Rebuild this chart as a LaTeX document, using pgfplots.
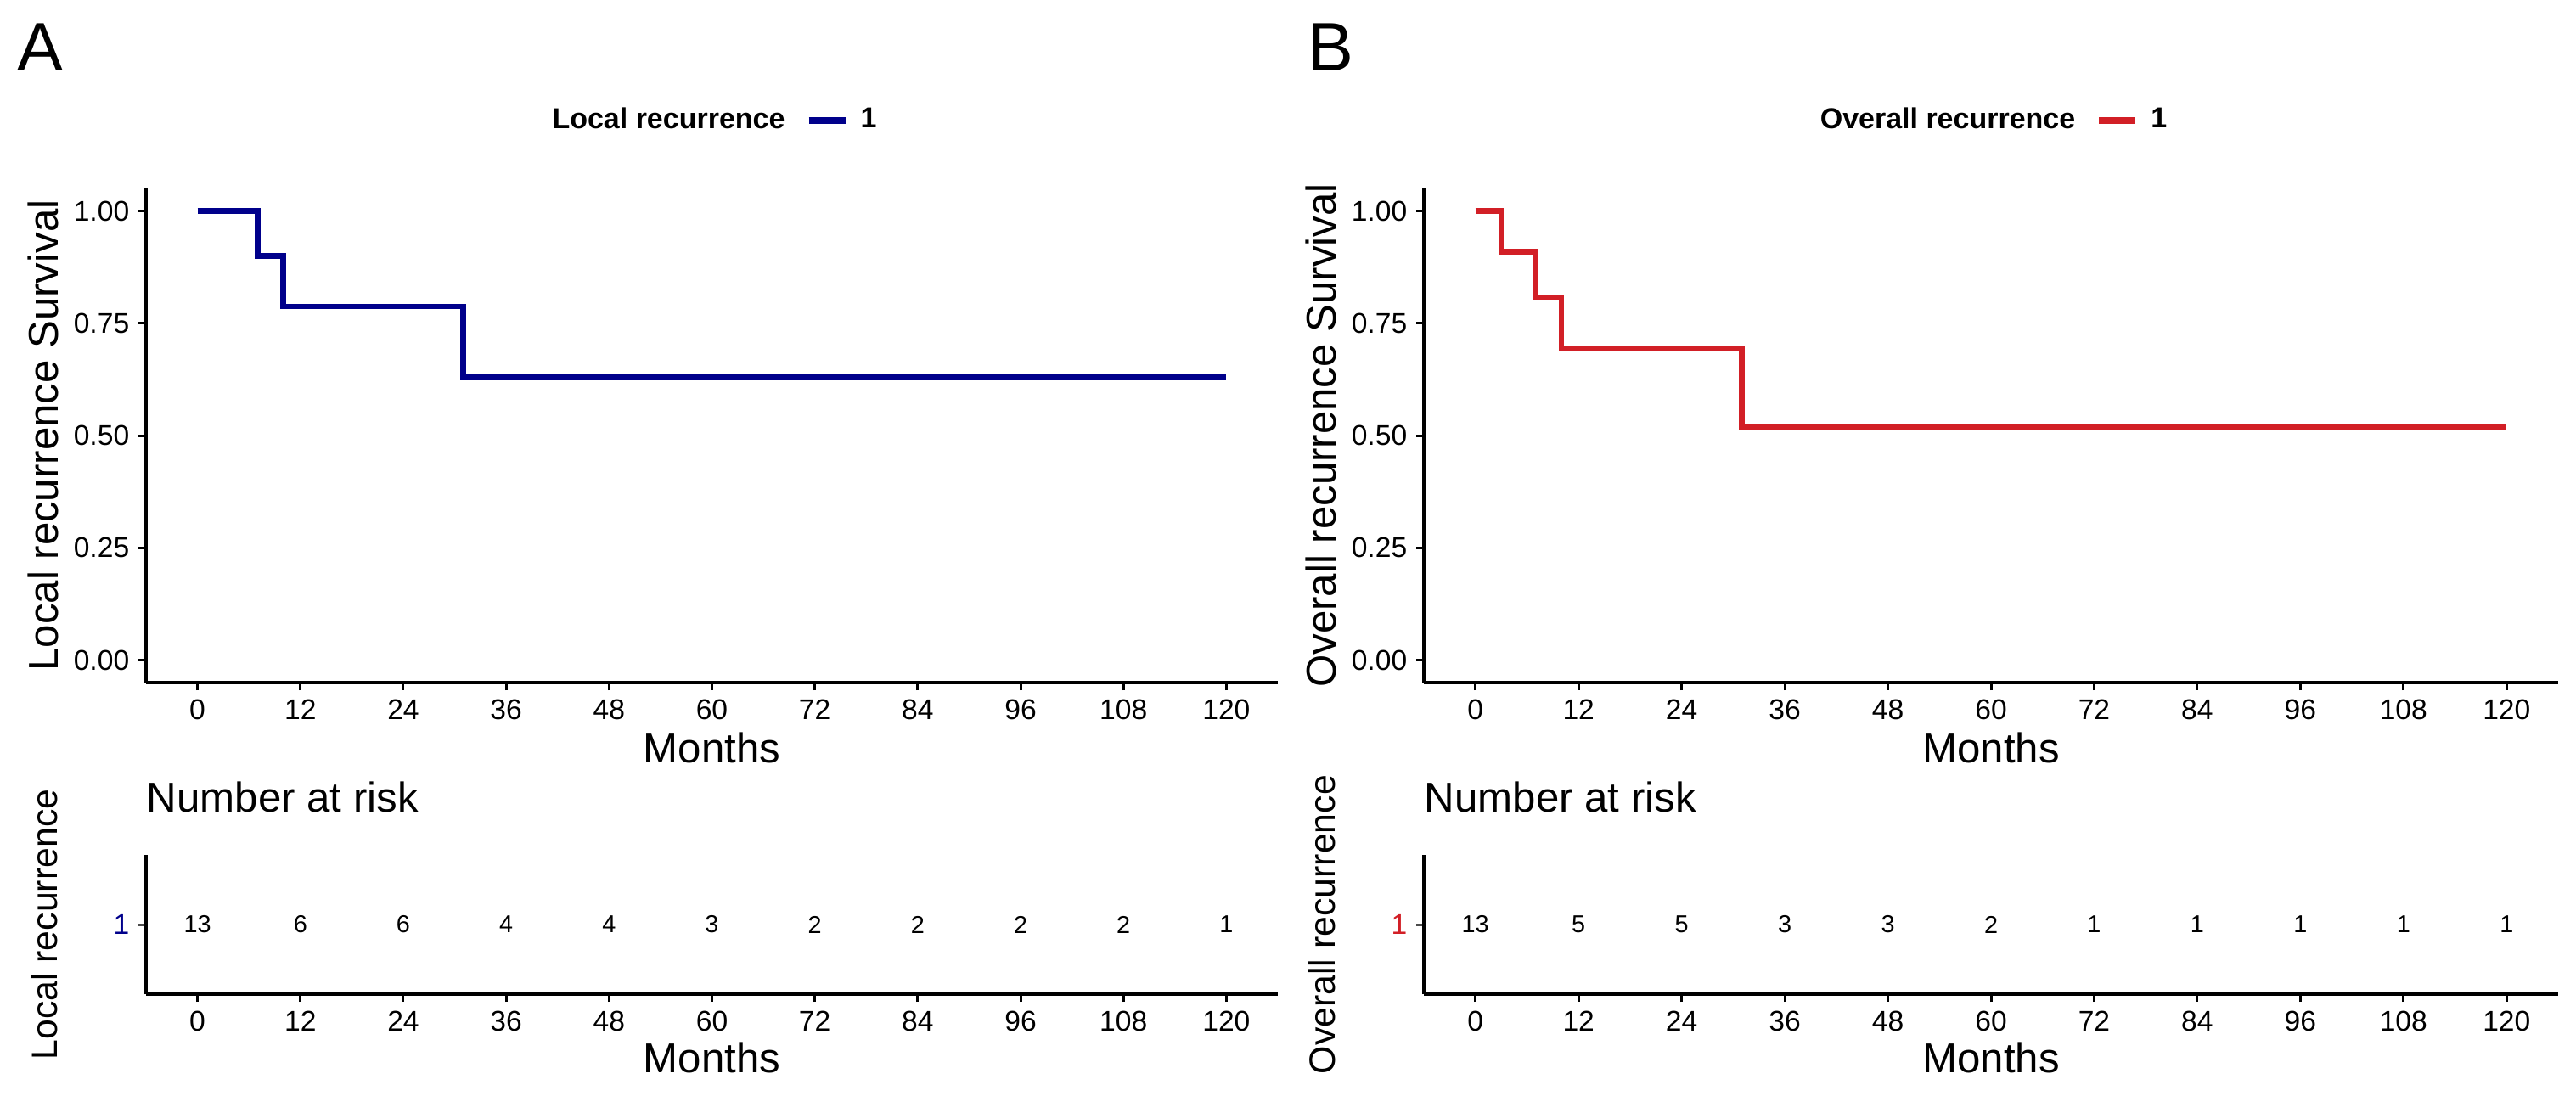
\documentclass[border=0pt]{standalone}
\usepackage{fontspec}
\setmainfont{Liberation Sans}
\usepackage{pgfplots}
\pgfplotsset{compat=1.18}
\usepackage{pgfplotstable}

\definecolor{kmblue}{RGB}{0,0,139}
\definecolor{kmred}{RGB}{210,31,38}

% Kaplan-Meier steps: months, survival
\pgfplotstableread{
t s
0 1.000
7 0.900
10 0.7875
31 0.630
120 0.630
}\localkm
\pgfplotstableread{
t s
0 1.000
3 0.909
7 0.808
10 0.693
31 0.520
120 0.520
}\overallkm
% number at risk
\pgfplotstableread{
t y n
0 1 13
12 1 6
24 1 6
36 1 4
48 1 4
60 1 3
72 1 2
84 1 2
96 1 2
108 1 2
120 1 1
}\localrisk
\pgfplotstableread{
t y n
0 1 13
12 1 5
24 1 5
36 1 3
48 1 3
60 1 2
72 1 1
84 1 1
96 1 1
108 1 1
120 1 1
}\overallrisk

\pgfplotsset{
  km/.style={
    scale only axis,
    axis x line*=bottom, axis y line*=left,
    axis line style={line width=0.8pt,-},
    xmin=-6, xmax=126, xtick={0,12,...,120},
    tick align=outside, major tick length=2.25pt,
    every tick/.style={black, line width=0.75pt},
    /pgf/number format/assume math mode=true,
    tick label style={font=\fontsize{8.4}{10}\selectfont, inner sep=0pt},
    xticklabel style={anchor=base, yshift=-8.5pt},
    yticklabel style={anchor=east, xshift=-2.5pt},
    label style={font=\fontsize{12.3}{14}\selectfont},
    xlabel={Months},
    ylabel style={anchor=south},
    legend image code/.code={\draw[#1, line width=2pt] (0pt,0pt) -- (10.75pt,0pt);},
    legend style={draw=none, fill=none, legend columns=-1,
      at={(0.5,1.1375)}, anchor=center,
      font=\fontsize{8.5}{10}\selectfont\bfseries,
      /tikz/every even column/.append style={column sep=4pt},
      /tikz/every odd column/.append style={column sep=1.5pt}},
  },
  main/.style={km, height=145.5pt, ymin=-0.05, ymax=1.05,
    ytick={0,0.25,0.5,0.75,1},
    yticklabel style={/pgf/number format/.cd, fixed, fixed zerofill, precision=2},
    xlabel style={at={(axis description cs:0.5,-0.1615)}, anchor=base},
  },
  risk/.style={km, height=41pt, ymin=0, ymax=2, ytick={1}, yticklabels={1},
    ytick style={black!70},
    ylabel style={font=\fontsize{10.7}{12}\selectfont},
    xlabel style={at={(axis description cs:0.5,-0.561)}, anchor=base},
    title={Number at risk},
    title style={at={(axis description cs:0,1)}, anchor=base west, yshift=6.75pt,
      inner sep=0pt, font=\fontsize{12.3}{14}\selectfont},
  },
  nrisk/.style={draw=none, mark=none, nodes near coords, point meta=explicit symbolic,
    nodes near coords style={anchor=center, text=black, font=\fontsize{7.2}{9}\selectfont}},
}

\begin{document}
\begin{tikzpicture}
\useasboundingbox (0pt,0pt) rectangle (758.5pt,-322.5pt);

\node[anchor=base west, inner sep=0pt, font=\fontsize{20.2}{24}\selectfont] at (5pt,-20.75pt) {A};
\node[anchor=base west, inner sep=0pt, font=\fontsize{20.2}{24}\selectfont] at (385pt,-20.75pt) {B};

% Panel A survival
\begin{axis}[main, at={(43pt,-201pt)}, anchor=south west, width=333.25pt,
  ylabel={Local recurrence Survival},
  ylabel style={at={(axis description cs:-0.0668,0.5)}}]
  \addlegendimage{empty legend}
  \addlegendentry{Local recurrence}
  \addplot[const plot, color=kmblue, line width=1.67pt] table[x=t, y=s] {\localkm};
  \addlegendentry{1}
\end{axis}

% Panel B survival
\begin{axis}[main, at={(419.25pt,-201pt)}, anchor=south west, width=334pt,
  ylabel={Overall recurrence Survival},
  ylabel style={at={(axis description cs:-0.0666,0.5)}}]
  \addlegendimage{empty legend}
  \addlegendentry{Overall recurrence}
  \addplot[const plot, color=kmred, line width=1.67pt] table[x=t, y=s] {\overallkm};
  \addlegendentry{1}
\end{axis}

% Panel A risk table
\begin{axis}[risk, at={(43pt,-292.75pt)}, anchor=south west, width=333.25pt,
  yticklabel style={text=kmblue},
  ylabel={Local recurrence},
  ylabel style={at={(axis description cs:-0.0675,0.5)}}]
  \addplot[nrisk] table[x=t, y=y, meta=n] {\localrisk};
\end{axis}

% Panel B risk table
\begin{axis}[risk, at={(419.25pt,-292.75pt)}, anchor=south west, width=334pt,
  yticklabel style={text=kmred},
  ylabel={Overall recurrence},
  ylabel style={at={(axis description cs:-0.0674,0.5)}}]
  \addplot[nrisk] table[x=t, y=y, meta=n] {\overallrisk};
\end{axis}
\end{tikzpicture}
\end{document}
